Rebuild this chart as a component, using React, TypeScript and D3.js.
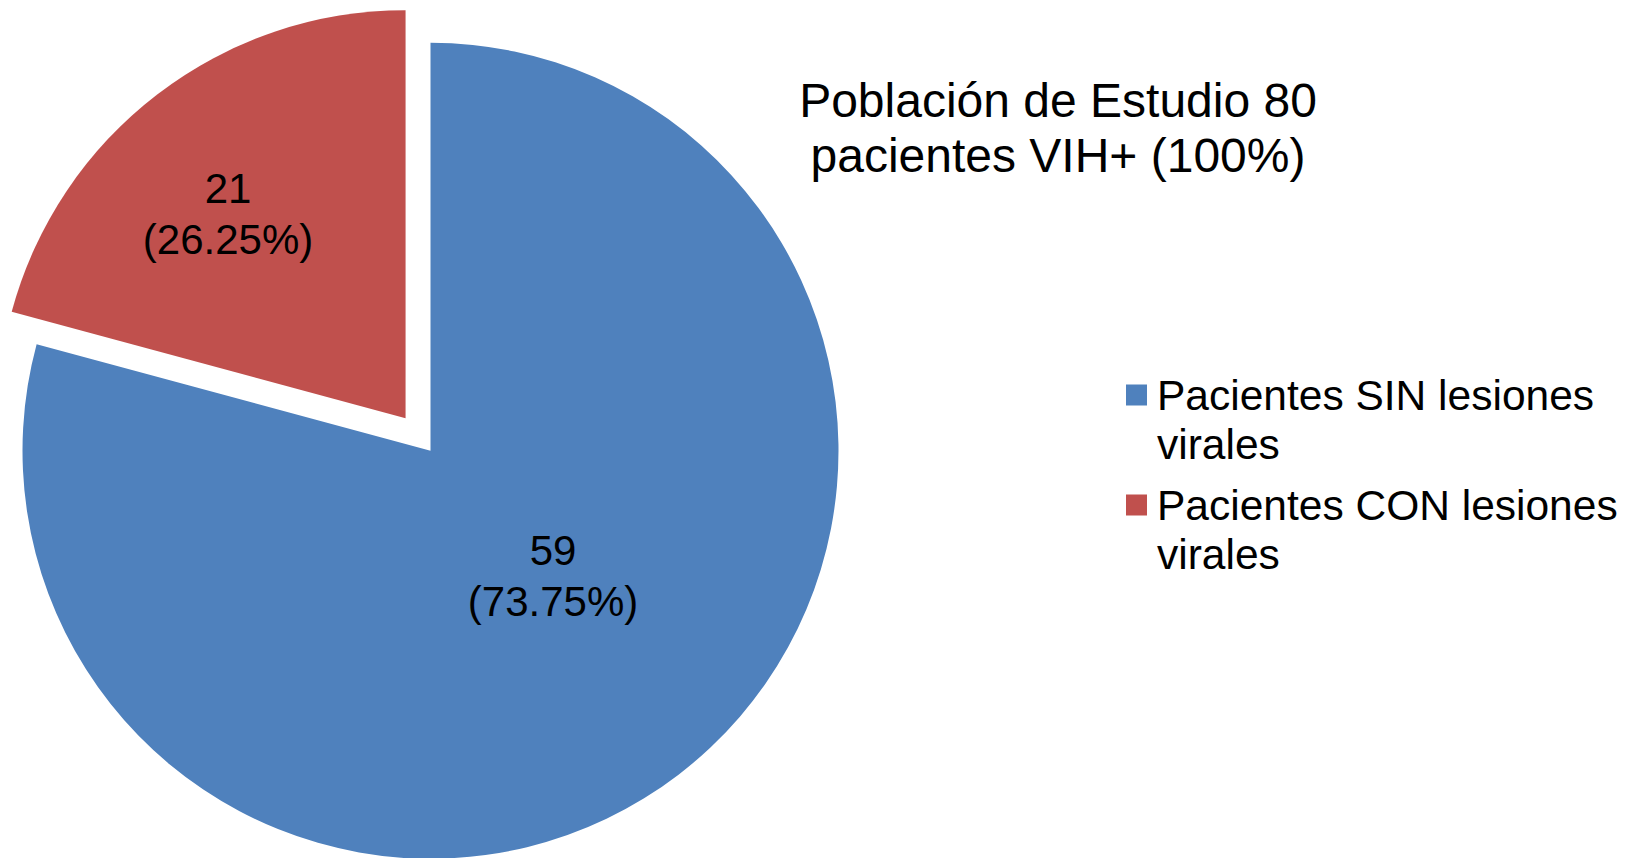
import React from "react";
import * as d3 from "d3";

const categories = ["Pacientes SIN lesiones virales", "Pacientes CON lesiones virales"];
const legendLines = [["Pacientes SIN lesiones", "virales"], ["Pacientes CON lesiones", "virales"]];
const counts = [59, 21];
const percentLabels = ["(73.75%)", "(26.25%)"];
// shares as drawn in the picture (slice angles)
const sliceShares = [79.2, 20.8];
const colors = ["#4F81BD", "#C0504D"];
const titleLines = ["Población de Estudio 80", "pacientes VIH+ (100%)"];
const exploded = [false, true];
const labelFactors = [0.429, 0.664];
const labelAngleShiftDeg = [-7, -3.5];

const W = 1642;
const H = 858;
const FONT = "'Liberation Sans', Arial, Helvetica, sans-serif";

export default function App() {
  const cx = 430.5;
  const cy = 450.7;
  const r = 408;
  const explodeDist = 41;
  const lineGap = 51;

  const pie = d3.pie<number>().sort(null).startAngle(0).endAngle(2 * Math.PI);
  const arcs = pie(sliceShares);
  const arcGen = d3.arc<d3.PieArcDatum<number>>().innerRadius(0).outerRadius(r);

  return (
    <div style={{ position: "absolute", left: 0, top: 0, width: W, height: H, overflow: "hidden", background: "#fff" }}>
      <svg width={W} height={H} style={{ display: "block" }} fontFamily={FONT}>
        <rect width={W} height={H} fill="#ffffff" />
        {arcs.map((a, i) => {
          const mid = (a.startAngle + a.endAngle) / 2;
          const dx = exploded[i] ? Math.sin(mid) * explodeDist : 0;
          const dy = exploded[i] ? -Math.cos(mid) * explodeDist : 0;
          const la = mid + (labelAngleShiftDeg[i] * Math.PI) / 180;
          const lx = Math.sin(la) * r * labelFactors[i];
          const ly = -Math.cos(la) * r * labelFactors[i];
          return (
            <g key={categories[i]} transform={`translate(${cx + dx},${cy + dy})`}>
              <path d={arcGen(a) || ""} fill={colors[i]} />
              <text x={lx} y={ly - lineGap / 2 + 15} textAnchor="middle" fontSize={42} fill="#000">{counts[i]}</text>
              <text x={lx} y={ly + lineGap / 2 + 15} textAnchor="middle" fontSize={42} fill="#000">{percentLabels[i]}</text>
            </g>
          );
        })}
        {titleLines.map((t, i) => (
          <text key={t} x={1058} y={116.5 + i * 55.5} textAnchor="middle" fontSize={48} fill="#000">{t}</text>
        ))}
        {legendLines.map((lines, i) => {
          const y0 = 395 + i * 110;
          return (
            <g key={categories[i]}>
              <rect x={1126} y={y0 - 10.5} width={21} height={21} fill={colors[i]} />
              {lines.map((ln, j) => (
                <text key={ln + j} x={1157} y={y0 + j * 49 + 15} fontSize={42.5} fill="#000">{ln}</text>
              ))}
            </g>
          );
        })}
      </svg>
    </div>
  );
}
